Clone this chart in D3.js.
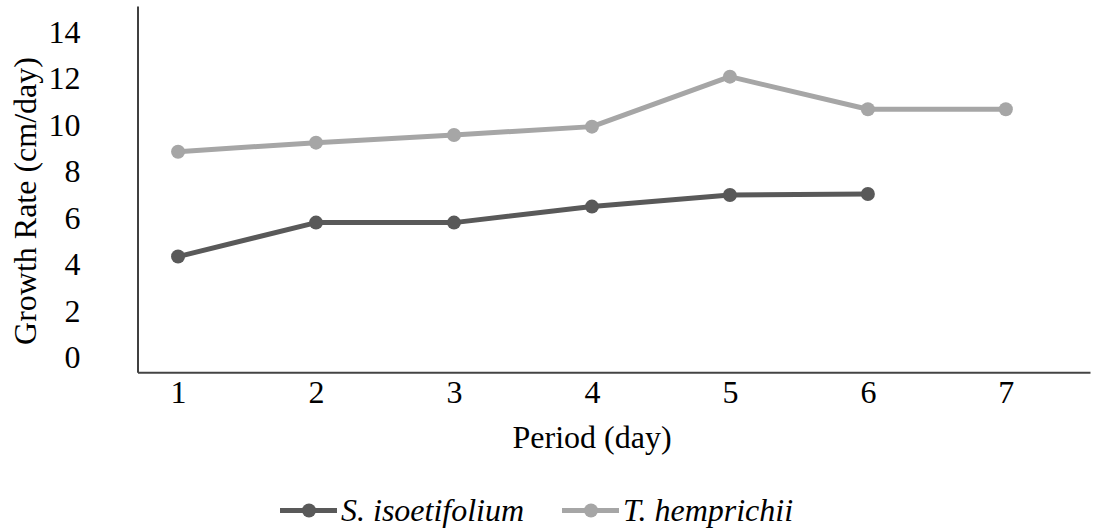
<!DOCTYPE html>
<html>
<head>
<meta charset="utf-8">
<script src="https://cdn.jsdelivr.net/npm/d3@7"></script>
<style>
  body { margin: 0; background: #fff; }
</style>
</head>
<body>
<div class="plot"></div>
<script>
// chart values
const periods = [1, 2, 3, 4, 5, 6, 7];
const yTicks = [0, 2, 4, 6, 8, 10, 12, 14];
const sIsoetifolium = [4.32, 5.78, 5.78, 6.47, 6.97, 7.01];
const tHemprichii = [8.83, 9.22, 9.55, 9.91, 12.06, 10.66, 10.66];
const seriesNames = ["S. isoetifolium", "T. hemprichii"];
const seriesColors = ["#595959", "#a6a6a6"];

const serif = "'Liberation Serif', 'DejaVu Serif', serif";
const width = 1100,
    height = 529;

const svg = d3.select(".plot").append("svg")
    .attr("width", width)
    .attr("height", height)
    .attr("font-family", serif);

const xScale = d3.scaleLinear() //x
    .domain([0.706, 7.61])
    .range([137.5, 1090]);
const yScale = d3.scaleLinear() //y
    .domain([-0.66, 15.1])
    .range([372.3, 6]);

const xAxis = d3.axisBottom(xScale).tickValues(periods).tickFormat(d3.format("d"))
    .tickSize(0).tickPadding(8);
const yAxis = d3.axisLeft(yScale).tickValues(yTicks).tickFormat(d3.format("d"))
    .tickSize(0).tickPadding(57);

// y axis
const gy = svg.append("g")
    .attr("transform", "translate(137.5,0)")
    .call(yAxis)
    .attr("font-family", serif)
    .attr("font-size", 32);
gy.select(".domain").attr("stroke", "#000").attr("stroke-width", 1.5);
gy.selectAll("text").attr("dy", "0.34em").attr("fill", "#000");

// x axis
const gx = svg.append("g")
    .attr("transform", "translate(0,372.3)")
    .call(xAxis)
    .attr("font-family", serif)
    .attr("font-size", 32);
gx.select(".domain").attr("stroke", "#444").attr("stroke-width", 2);
gx.selectAll("text").attr("fill", "#000");

// axis titles
svg.append("text")
    .attr("text-anchor", "middle")
    .attr("x", 592)
    .attr("y", 448)
    .attr("font-size", 32)
    .text("Period (day)");

svg.append("text")
    .attr("text-anchor", "middle")
    .attr("transform", "translate(36,201) rotate(-90)")
    .attr("font-size", 32)
    .text("Growth Rate (cm/day)");

// lines + dots
const line = d3.line()
    .x((d, i) => xScale(periods[i]))
    .y(d => yScale(d));

[sIsoetifolium, tHemprichii].forEach(function(vals, k) {
    svg.append("path")
        .datum(vals)
        .attr("fill", "none")
        .attr("stroke", seriesColors[k])
        .attr("stroke-width", 5)
        .attr("stroke-linejoin", "round")
        .attr("d", line);

    svg.append("g").selectAll("circle")
        .data(vals)
        .enter()
        .append("circle")
        .attr("cx", (d, i) => xScale(periods[i]))
        .attr("cy", d => yScale(d))
        .attr("r", 7)
        .attr("fill", seriesColors[k]);
});

// legend
const legendX = [280, 562];
const legend = svg.append("g").selectAll("g")
    .data(seriesNames)
    .enter()
    .append("g")
    .attr("transform", (d, i) => "translate(" + legendX[i] + ",510.5)");

legend.append("line")
    .attr("x1", 0).attr("x2", 57)
    .attr("stroke", (d, i) => seriesColors[i])
    .attr("stroke-width", 5);
legend.append("circle")
    .attr("cx", 29)
    .attr("r", 7)
    .attr("fill", (d, i) => seriesColors[i]);
legend.append("text")
    .attr("x", 61)
    .attr("y", 10)
    .attr("font-size", 32)
    .attr("font-style", "italic")
    .text(d => d);
</script>
</body>
</html>
